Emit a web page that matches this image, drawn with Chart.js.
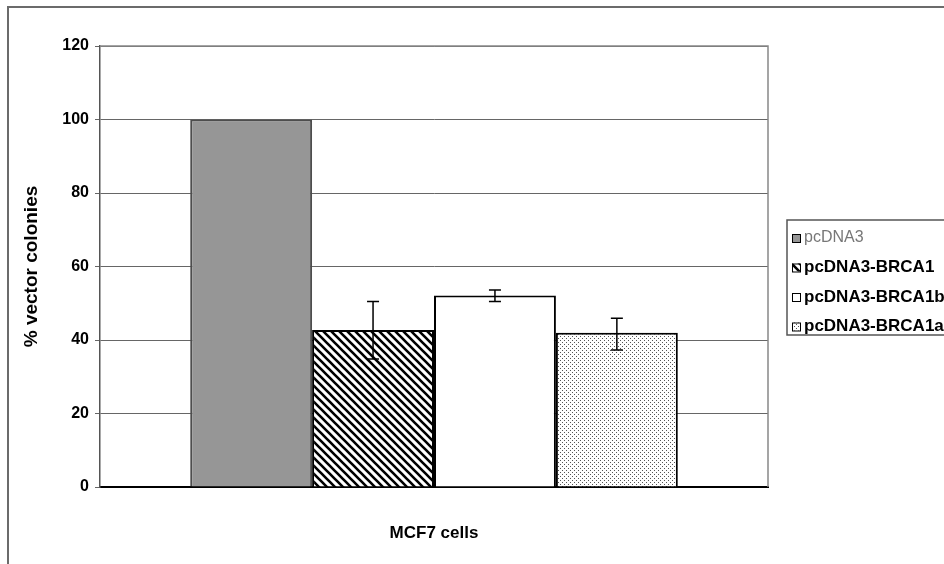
<!doctype html>
<html lang="en">
  <head>
    <meta charset="utf-8">
    <title>MCF7 colonies</title>
    <script src="https://cdn.jsdelivr.net/npm/chart.js"></script>
    <style>
      body { margin: 0; background: #fff; }
    </style>
  </head>
  <body>
    <canvas id="colonyChart" width="944" height="564"></canvas>

    <script>
      // data
      var categories = ["MCF7 cells"];
      var seriesNames = ["pcDNA3", "pcDNA3-BRCA1", "pcDNA3-BRCA1b", "pcDNA3-BRCA1a"];
      var seriesValues = [100, 42.7, 52.1, 42.0];
      var errHigh = [null, 50.5, 53.6, 45.9];
      var errLow = [null, 34.8, 50.5, 37.3];
      var yTicks = [0, 20, 40, 60, 80, 100, 120];

      var ctx = document.getElementById("colonyChart").getContext("2d");

      // fill patterns like the old excel ones
      function hatchPattern() {
        var c = document.createElement("canvas");
        c.width = 8; c.height = 8;
        var g = c.getContext("2d");
        g.fillStyle = "#fff";
        g.fillRect(0, 0, 8, 8);
        g.strokeStyle = "#000";
        g.lineWidth = 2.6;
        g.beginPath();
        g.moveTo(-2, -2); g.lineTo(10, 10);
        g.moveTo(-10, -2); g.lineTo(2, 10);
        g.moveTo(6, -2); g.lineTo(18, 10);
        g.stroke();
        return ctx.createPattern(c, "repeat");
      }

      function dotPattern() {
        var c = document.createElement("canvas");
        c.width = 4; c.height = 4;
        var g = c.getContext("2d");
        g.fillStyle = "#fff";
        g.fillRect(0, 0, 4, 4);
        g.fillStyle = "#555";
        g.fillRect(0, 0, 1, 1);
        g.fillRect(2, 2, 1, 1);
        return ctx.createPattern(c, "repeat");
      }

      var fills = ["#969696", hatchPattern(), "#ffffff", dotPattern()];
      var borders = ["#4d4d4d", "#000", "#000", "#000"];

      var datasets = seriesNames.map(function (name, i) {
        return {
          label: name,
          data: [seriesValues[i]],
          backgroundColor: fills[i],
          borderColor: borders[i],
          borderWidth: 2,
          borderSkipped: "start"
        };
      });

      // error bars + frames + legend
      var extras = {
        id: "extras",
        beforeDraw: function (chart) {
          var c = chart.ctx;
          c.save();
          c.strokeStyle = "#6b6b6b";
          c.lineWidth = 2;
          c.strokeRect(8, 7, 1000, 1000);
          c.restore();
        },
        afterDatasetsDraw: function (chart) {
          var c = chart.ctx;
          var y = chart.scales.y;
          var a = chart.chartArea;
          c.save();
          // plot area right / top border
          c.strokeStyle = "#888";
          c.lineWidth = 1.5;
          c.beginPath();
          c.moveTo(a.left, a.top);
          c.lineTo(a.right, a.top);
          c.lineTo(a.right, a.bottom);
          c.stroke();

          c.strokeStyle = "#000";
          c.lineWidth = 1.5;
          chart.data.datasets.forEach(function (ds, i) {
            if (errHigh[i] == null) return;
            var bar = chart.getDatasetMeta(i).data[0];
            var hi = y.getPixelForValue(errHigh[i]);
            var lo = y.getPixelForValue(errLow[i]);
            c.beginPath();
            c.moveTo(bar.x, hi); c.lineTo(bar.x, lo);
            c.moveTo(bar.x - 6, hi); c.lineTo(bar.x + 6, hi);
            c.moveTo(bar.x - 6, lo); c.lineTo(bar.x + 6, lo);
            c.stroke();
          });

          // legend box
          var lx = 787, ly = 220;
          c.fillStyle = "#fff";
          c.fillRect(lx, ly, 200, 115);
          c.strokeStyle = "#555";
          c.lineWidth = 1.5;
          c.strokeRect(lx, ly, 200, 115);
          c.textBaseline = "middle";
          chart.data.datasets.forEach(function (ds, i) {
            var ty = 238 + i * 29.5;
            c.fillStyle = ds.backgroundColor;
            c.fillRect(792, ty - 4, 8, 8);
            c.strokeStyle = "#000";
            c.lineWidth = 1;
            c.strokeRect(792.5, ty - 3.5, 8, 8);
            if (i === 0) {
              c.font = "16px 'Liberation Sans', Arial, sans-serif";
              c.fillStyle = "#777";
            } else {
              c.font = "bold 17px 'Liberation Sans', Arial, sans-serif";
              c.fillStyle = "#000";
            }
            c.fillText(ds.label, 804, ty);
          });
          c.restore();
        }
      };

      var chart = new Chart(ctx, {
        type: "bar",
        data: { labels: categories, datasets: datasets },
        plugins: [extras],
        options: {
          responsive: false,
          animation: false,
          events: [],
          layout: { padding: { left: 0, top: 46, right: 176, bottom: 0 } },
          datasets: { bar: { categoryPercentage: 0.73, barPercentage: 1 } },
          plugins: { legend: { display: false }, tooltip: { enabled: false } },
          scales: {
            x: {
              grid: { display: false },
              border: { display: true, color: "#000", width: 2 },
              ticks: {
                padding: 28,
                color: "#000",
                font: { family: "'Liberation Sans', Arial, sans-serif", size: 17, weight: "bold" }
              },
              afterFit: function (s) { s.height = 77; }
            },
            y: {
              min: 0,
              max: 120,
              afterBuildTicks: function (s) {
                s.ticks = yTicks.map(function (v) { return { value: v }; });
              },
              grid: { color: "#666", lineWidth: 1, tickLength: 5 },
              border: { display: true, color: "#555", width: 1.5 },
              ticks: {
                padding: 6,
                color: "#000",
                font: { family: "'Liberation Sans', Arial, sans-serif", size: 16, weight: "bold" }
              },
              title: {
                display: true,
                text: "% vector colonies",
                color: "#000",
                padding: { top: 20, bottom: 0 },
                font: { family: "'Liberation Sans', Arial, sans-serif", size: 19, weight: "bold" }
              },
              afterFit: function (s) { s.width = 100; }
            }
          }
        }
      });
    </script>
  </body>
</html>
